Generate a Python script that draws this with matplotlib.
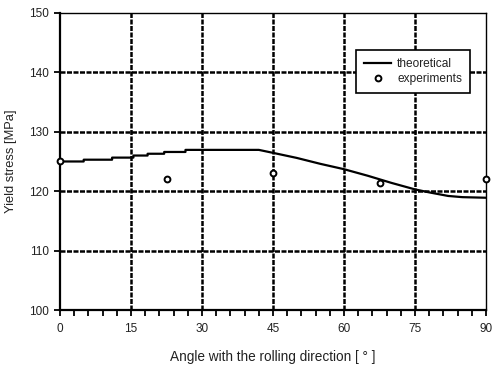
import matplotlib
matplotlib.use("Agg")
import matplotlib.pyplot as plt
from matplotlib.ticker import MultipleLocator

# Data
theory_angle = [0, 5, 5, 11, 11, 15.5, 15.5, 18.5, 18.5, 22, 22, 26.5, 26.5, 42,
                45, 50, 55, 60, 65, 70, 75, 78, 82, 85, 90]
theory_stress = [125.0, 125.0, 125.3, 125.3, 125.65, 125.65, 126.0, 126.0, 126.3, 126.3,
                 126.6, 126.6, 126.95, 126.95, 126.45, 125.6, 124.6, 123.7, 122.6, 121.4,
                 120.3, 119.8, 119.2, 119.0, 118.9]
exp_angle = [0, 22.5, 45, 67.5, 90]
exp_stress = [125, 122, 123, 121.4, 122]
x_ticks = [0, 15, 30, 45, 60, 75, 90]
y_ticks = [100, 110, 120, 130, 140, 150]

plt.rcParams['font.family'] = ['Liberation Sans', 'DejaVu Sans']
fig = plt.figure(figsize=(4.92, 3.67), dpi=100)
ax = fig.add_axes([0.122, 0.155, 0.866, 0.81])

ax.plot(theory_angle, theory_stress, color='black', lw=1.6, label='theoretical', zorder=3)
ax.plot(exp_angle, exp_stress, linestyle='none', marker='o', markersize=4.2,
        markerfacecolor='white', markeredgecolor='black', markeredgewidth=1.4,
        label='experiments', clip_on=False, zorder=4)

ax.set_xlim(0, 90)
ax.set_ylim(100, 150)
ax.set_xticks(x_ticks)
ax.set_yticks(y_ticks)
ax.xaxis.set_minor_locator(MultipleLocator(3))

for v in x_ticks[1:-1]:
    ax.axvline(v, color='black', lw=1.8, dashes=(2, 0.6), zorder=1)
for v in y_ticks[1:-1]:
    ax.axhline(v, color='black', lw=1.8, dashes=(2, 0.6), zorder=1)

for side in ['left', 'bottom']:
    ax.spines[side].set_linewidth(1.6)
for side in ['top', 'right']:
    ax.spines[side].set_linewidth(1.0)

ax.tick_params(axis='both', which='both', direction='out', width=1.3, length=4,
               labelsize=8.5, labelcolor='#222222')
ax.tick_params(axis='x', pad=5)
ax.tick_params(axis='y', pad=4)

ax.set_xlabel('Angle with the rolling direction [ ° ]', fontsize=9.8, color='#222222', labelpad=11)
ax.set_ylabel('Yield stress [MPa]', fontsize=9.3, color='#222222', labelpad=9)

leg = ax.legend(loc='upper right', bbox_to_anchor=(0.962, 0.875), borderaxespad=0,
                fontsize=8.6, frameon=True, fancybox=False, edgecolor='black', framealpha=1,
                handlelength=2.3, borderpad=0.65, labelspacing=0.25, handletextpad=0.5)
leg.get_frame().set_linewidth(1.2)
for t in leg.get_texts():
    t.set_color('#222222')

fig.savefig('out.png', dpi=100)
